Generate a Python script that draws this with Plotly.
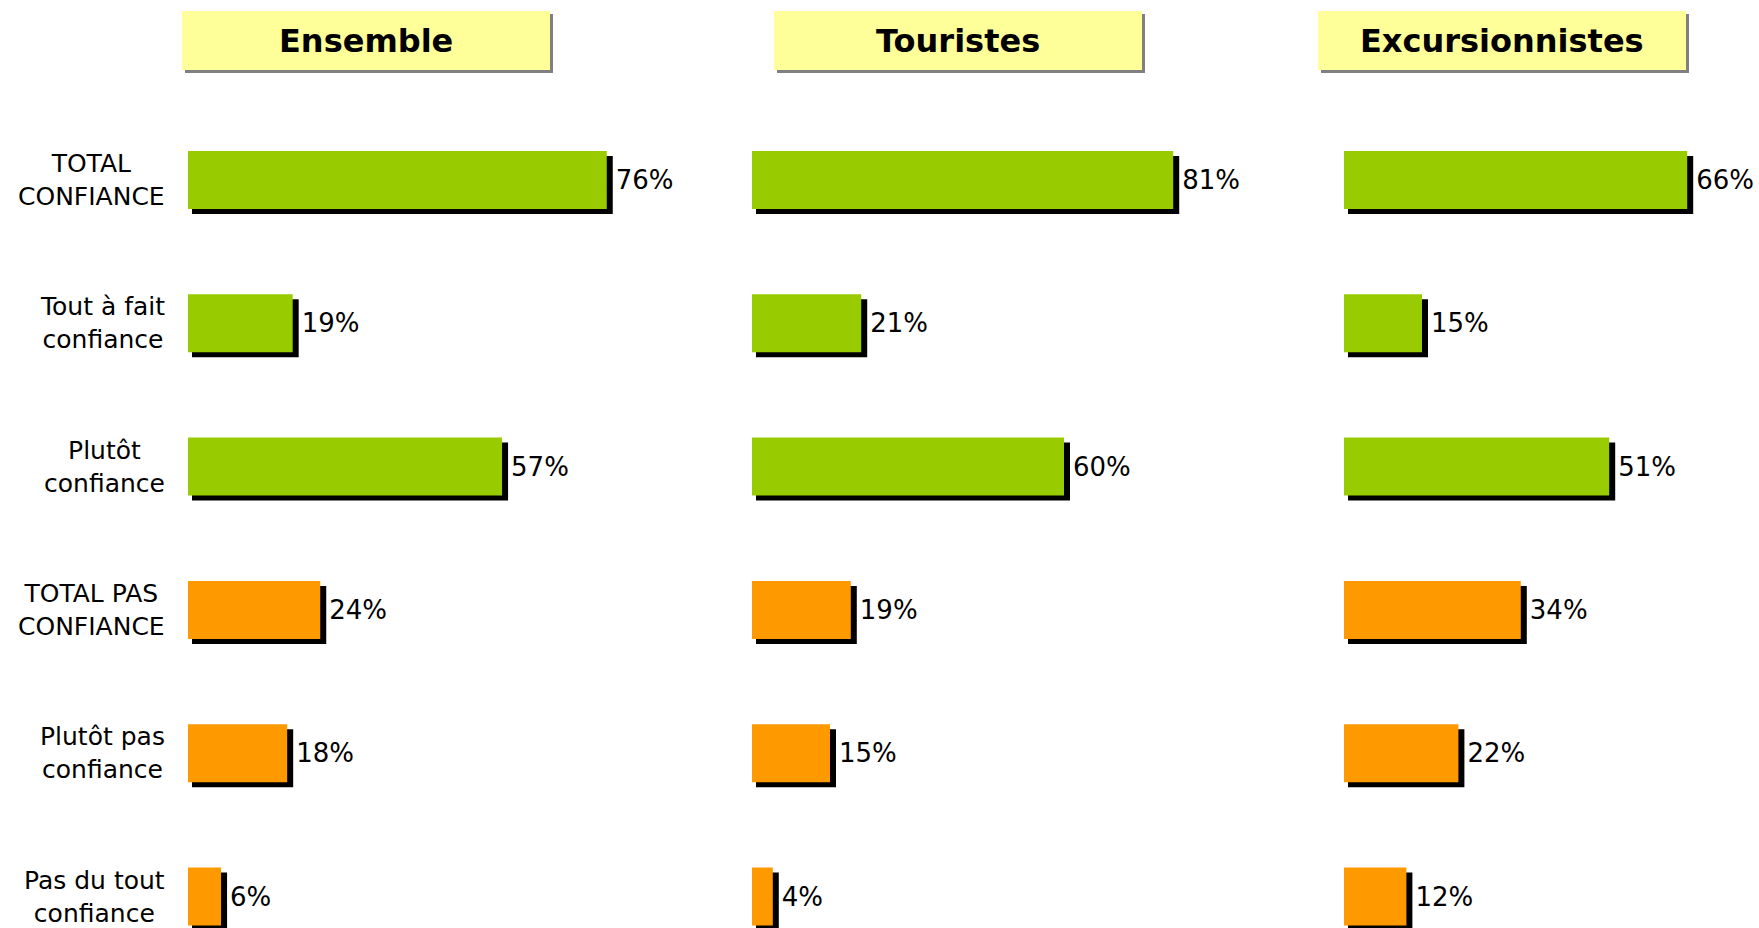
import plotly.graph_objects as go

# ---- data ----
categories = ["TOTAL CONFIANCE", "Tout à fait confiance", "Plutôt confiance",
              "TOTAL PAS CONFIANCE", "Plutôt pas confiance", "Pas du tout confiance"]
category_labels = ["TOTAL<br>CONFIANCE", "Tout à fait<br>confiance", "Plutôt<br>confiance",
                   "TOTAL PAS<br>CONFIANCE", "Plutôt pas<br>confiance", "Pas du tout<br>confiance"]
panel_titles = ["Ensemble", "Touristes", "Excursionnistes"]
ensemble = [76, 19, 57, 24, 18, 6]
touristes = [81, 21, 60, 19, 15, 4]
excursionnistes = [66, 15, 51, 34, 22, 12]
series = [ensemble, touristes, excursionnistes]

# ---- styles / layout ----
W, H = 1759, 928
GREEN, ORANGE = "#99CC00", "#FF9900"
bar_colors = [GREEN, GREEN, GREEN, ORANGE, ORANGE, ORANGE]
FONT = "DejaVu Sans"

panel_start_px = [188, 752, 1344]
px_per_unit = [5.51, 5.2, 5.2]
x_max = [85, 85, 75]
title_boxes = [(182, 550), (774, 1142), (1318, 1686)]
box_y = (11, 70)

row_pitch = 143.3
row0_center = 180
bar_h_px = 58
y_top = -row0_center / row_pitch
y_bot = (H - row0_center) / row_pitch
bar_w = bar_h_px / row_pitch

fig = go.Figure()
for i, vals in enumerate(series):
    ppu = px_per_unit[i]
    xa = "x" if i == 0 else f"x{i+1}"
    ya = "y" if i == 0 else f"y{i+1}"
    # invisible carrier of the value labels (centred on the row)
    fig.add_trace(go.Bar(
        x=[v + 6 / ppu for v in vals], y=categories, orientation="h",
        width=bar_w, offset=-bar_w / 2,
        marker=dict(color="rgba(0,0,0,0)", line=dict(width=0)),
        text=[f"{v}%" for v in vals], textposition="outside", constraintext="none",
        textfont=dict(family=FONT, size=26, color="#000000"),
        cliponaxis=False, hoverinfo="skip", showlegend=False, xaxis=xa, yaxis=ya))
    # shadow
    fig.add_trace(go.Bar(
        x=[v + 2 / ppu for v in vals], y=categories, base=4 / ppu, orientation="h",
        width=bar_w, offset=-bar_w / 2 + 5 / row_pitch,
        marker=dict(color="#000000", line=dict(width=0)),
        hoverinfo="skip", showlegend=False, xaxis=xa, yaxis=ya, cliponaxis=False))
    # main bar
    fig.add_trace(go.Bar(
        x=vals, y=categories, orientation="h", width=bar_w, offset=-bar_w / 2,
        marker=dict(color=bar_colors, line=dict(width=0)),
        showlegend=False, xaxis=xa, yaxis=ya, cliponaxis=False))

layout = dict(width=W, height=H, margin=dict(l=0, r=0, t=0, b=0),
              paper_bgcolor="white", plot_bgcolor="white", barmode="overlay",
              font=dict(family=FONT, color="#000000"))
for i in range(3):
    suffix = "" if i == 0 else str(i + 1)
    x0 = panel_start_px[i]
    x1 = x0 + x_max[i] * px_per_unit[i]
    layout["xaxis" + suffix] = dict(domain=[x0 / W, x1 / W], range=[0, x_max[i]],
                                    visible=False, anchor="y" + suffix, fixedrange=True)
    layout["yaxis" + suffix] = dict(domain=[0, 1], type="category", categoryorder="array",
                                    categoryarray=categories, range=[y_bot, y_top],
                                    visible=False, anchor="x" + suffix, fixedrange=True)
fig.update_layout(**layout)

shapes = []
annotations = []
for (bx0, bx1), title in zip(title_boxes, panel_titles):
    shapes.append(dict(type="rect", xref="paper", yref="paper",
                       x0=(bx0 + 3) / W, x1=(bx1 + 3) / W,
                       y0=1 - (box_y[1] + 3) / H, y1=1 - (box_y[0] + 3) / H,
                       fillcolor="#808080", line=dict(width=0), layer="below"))
    shapes.append(dict(type="rect", xref="paper", yref="paper",
                       x0=bx0 / W, x1=bx1 / W, y0=1 - box_y[1] / H, y1=1 - box_y[0] / H,
                       fillcolor="#FFFF99", line=dict(width=0), layer="below"))
    annotations.append(dict(text=f"<b>{title}</b>", xref="paper", yref="paper",
                            x=(bx0 + bx1) / 2 / W, y=1 - (sum(box_y) / 2 + 1) / H,
                            xanchor="center", yanchor="middle", showarrow=False,
                            font=dict(family=FONT, size=32, color="#000000")))
for cat, lab in zip(categories, category_labels):
    annotations.append(dict(text=lab, xref="paper", yref="y", x=167 / W, y=cat,
                            xanchor="right", yanchor="middle", align="center",
                            showarrow=False,
                            font=dict(family=FONT, size=25, color="#000000")))
fig.update_layout(shapes=shapes, annotations=annotations)

fig.write_html("out.html", config={"displayModeBar": False},
               post_script="document.body.style.margin='0';document.body.style.overflow='hidden';")
